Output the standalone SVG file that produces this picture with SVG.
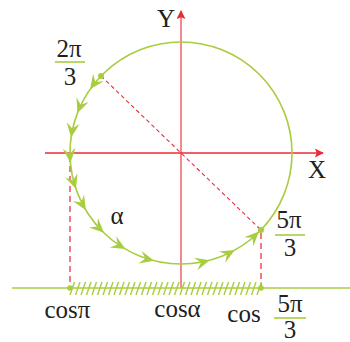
<svg xmlns="http://www.w3.org/2000/svg" width="350" height="342" viewBox="0 0 350 342">
<style>
.g{stroke:#a8cd3f;fill:none;stroke-width:1.6}
.gf{fill:#a8cd3f}
.ax{stroke:#ec2a35;stroke-width:1.5;fill:none}
.axy{stroke:#f37b84;stroke-width:1.8;fill:none}
.dsh{stroke:#f26c78;stroke-width:1.8;stroke-dasharray:6 4;fill:none}
.dd{stroke:#e5303c;stroke-width:1.1;stroke-dasharray:4 3;fill:none}
.h{stroke:#a8cd3f;stroke-width:1.4}
text{font-family:"Liberation Serif","Times New Roman",serif;fill:#231f20;text-anchor:middle}
.t{font-size:25px}
.s{font-size:25px}
</style>
<defs>
<marker id="ra" viewBox="0 0 10 10" refX="9" refY="5" markerWidth="10" markerHeight="9" markerUnits="userSpaceOnUse" orient="auto">
<path d="M0,0 L10,5 L0,10 L2,5 Z" fill="#ec2a35"/>
</marker>
<path id="ah" d="M0,0 L-14.5,-6.5 L-9,0 L-14.5,6.5 Z"/>
</defs>
<g id="connectors">
<line class="axy" x1="181" y1="288" x2="181" y2="11" marker-end="url(#ra)"/>
<line class="ax" x1="45" y1="153" x2="323" y2="153" marker-end="url(#ra)"/>
<line class="dd" x1="101" y1="76" x2="261" y2="230"/>
<line class="dsh" x1="70" y1="156" x2="70" y2="286"/>
<line class="dsh" x1="261" y1="233" x2="261" y2="286"/>
</g>
<g id="baseline">
<line class="g" x1="12" y1="288" x2="350" y2="288"/>
<path class="h" d="M70,295l4.5,-13M75.5,295l4.5,-13M81,295l4.5,-13M86.5,295l4.5,-13M92,295l4.5,-13M97.5,295l4.5,-13M103,295l4.5,-13M108.5,295l4.5,-13M114,295l4.5,-13M119.5,295l4.5,-13M125,295l4.5,-13M130.5,295l4.5,-13M136,295l4.5,-13M141.5,295l4.5,-13M147,295l4.5,-13M152.5,295l4.5,-13M158,295l4.5,-13M163.5,295l4.5,-13M169,295l4.5,-13M174.5,295l4.5,-13M180,295l4.5,-13M185.5,295l4.5,-13M191,295l4.5,-13M196.5,295l4.5,-13M202,295l4.5,-13M207.5,295l4.5,-13M213,295l4.5,-13M218.5,295l4.5,-13M224,295l4.5,-13M229.5,295l4.5,-13M235,295l4.5,-13M240.5,295l4.5,-13M246,295l4.5,-13M251.5,295l4.5,-13M257,295l4.5,-13"/>
<circle class="gf" cx="70" cy="288" r="2.8"/>
<circle class="gf" cx="261" cy="288" r="2.8"/>
</g>
<g id="circle">
<circle class="g" cx="181" cy="153" r="111"/>
<circle class="gf" cx="101" cy="76" r="3"/>
<circle class="gf" cx="261" cy="230" r="3"/>
<g class="gf">
<use href="#ah" transform="translate(90.1,89.3) rotate(125)"/>
<use href="#ah" transform="translate(77.4,113.2) rotate(111)"/>
<use href="#ah" transform="translate(71.1,137.5) rotate(98)"/>
<use href="#ah" transform="translate(70.4,162.7) rotate(85)"/>
<use href="#ah" transform="translate(76.0,189.1) rotate(71)"/>
<use href="#ah" transform="translate(85.9,210.2) rotate(59)"/>
<use href="#ah" transform="translate(103.9,232.8) rotate(44)"/>
<use href="#ah" transform="translate(125.5,249.1) rotate(30)"/>
<use href="#ah" transform="translate(154.1,260.7) rotate(14)"/>
<use href="#ah" transform="translate(209.7,260.2) rotate(-15)"/>
<use href="#ah" transform="translate(234.8,250.1) rotate(-29)"/>
<use href="#ah" transform="translate(259.0,231.5) rotate(-45)"/>
</g>
</g>
<g id="labels">
<text class="s" x="166" y="27">Y</text>
<text class="s" x="317" y="178">X</text>
<text class="t" x="69" y="57">2π</text>
<line class="g" x1="55" y1="62" x2="85" y2="62"/>
<text class="t" x="70" y="85">3</text>
<text class="t" x="289" y="228">5π</text>
<line class="g" x1="275" y1="235" x2="305" y2="235"/>
<text class="t" x="290" y="256">3</text>
<text class="s" x="117" y="224">α</text>
<text class="s" x="67.5" y="318">cosπ</text>
<text class="s" x="177.5" y="317">cosα</text>
<text class="s" x="244" y="322">cos</text>
<text class="t" x="290" y="312">5π</text>
<line class="g" x1="274" y1="318" x2="306" y2="318"/>
<text class="t" x="290" y="338">3</text>
</g>
</svg>
